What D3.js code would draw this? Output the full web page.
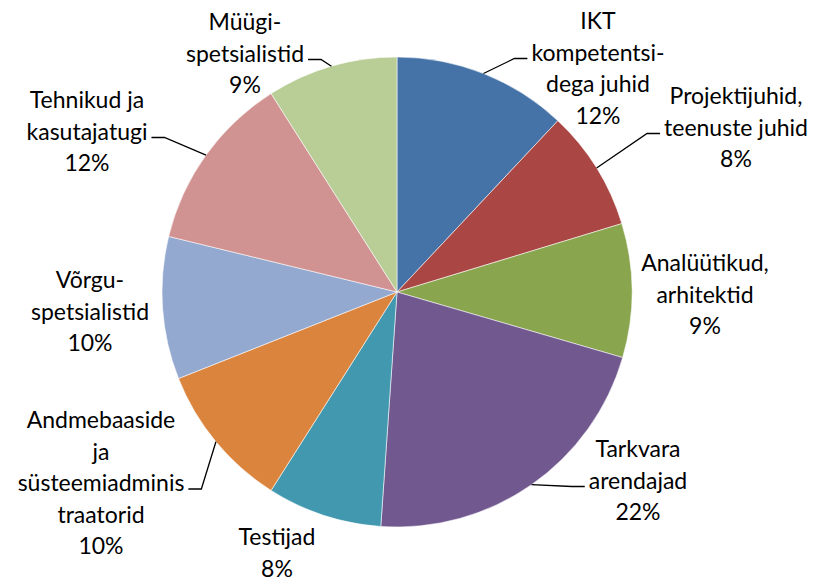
<!DOCTYPE html>
<html>
<head>
<meta charset="utf-8">
<script src="https://cdn.jsdelivr.net/npm/d3@7"></script>
<style>
  body { margin: 0; background: #fff; }
  svg text { font-family: Lato, "Open Sans", sans-serif; fill: #000; }
</style>
</head>
<body>
<svg id="chart" width="816" height="580"></svg>
<script>
// data (clockwise from 12 o'clock)
const categories = [
  ["IKT", "kompetentsi-", "dega juhid"],
  ["Projektijuhid,", "teenuste juhid"],
  ["Analüütikud,", "arhitektid"],
  ["Tarkvara", "arendajad"],
  ["Testijad"],
  ["Andmebaaside", "ja", "süsteemiadminis", "traatorid"],
  ["Võrgu-", "spetsialistid"],
  ["Tehnikud ja", "kasutajatugi"],
  ["Müügi-", "spetsialistid"]
];
const shares = [12.0, 8.3, 9.2, 21.6, 7.9, 10.0, 9.8, 12.2, 9.0];
const colors = ["#4572A7", "#AA4643", "#89A54E", "#71588F", "#4198AF", "#DB843D", "#93A9CF", "#D19392", "#B9CD96"];

// label layout: centre x, first baseline y, which line the leader attaches to (-1 = none)
const labelX = [598, 736, 705, 638, 277, 101, 90, 87, 245];
const labelY = [29, 104, 271, 457, 545, 428, 288, 108, 30];
const leaderLine = [1, 1, -1, 1, -1, 2, -1, 1, 1];

const width = 816, height = 580;
const cx = 397, cy = 292, radius = 235;
const fontSize = 23, lineH = 31.5;

const svg = d3.select("#chart");
const g = svg.append("g").attr("transform", `translate(${cx},${cy})`);

const pie = d3.pie().sort(null).value(d => d);
const arcs = pie(shares);
const arc = d3.arc().innerRadius(0).outerRadius(radius);
const edge = d3.arc().innerRadius(radius).outerRadius(radius);

g.selectAll("path.slice")
  .data(arcs)
  .join("path")
  .attr("class", "slice")
  .attr("d", arc)
  .attr("fill", (d, i) => colors[i])
  .attr("stroke", "#fff")
  .attr("stroke-width", 0.8)
  .attr("stroke-opacity", 0.7);

// labels
const labels = svg.selectAll("text.lbl")
  .data(arcs)
  .join("text")
  .attr("class", "lbl")
  .attr("text-anchor", "middle")
  .style("font-size", fontSize + "px");

labels.each(function(d, i) {
  const t = d3.select(this);
  const lines = categories[i].concat([Math.round(shares[i]) + "%"]);
  lines.forEach((s, k) => {
    t.append("tspan")
      .attr("x", labelX[i])
      .attr("y", labelY[i] + k * lineH)
      .text(s);
  });
});

// leader lines: pie edge at mid angle -> short horizontal into the label
labels.each(function(d, i) {
  if (leaderLine[i] < 0) return;
  const span = d3.select(this).selectAll("tspan").nodes()[leaderLine[i]];
  const w = span.getComputedTextLength();
  const p = edge.centroid(d);
  const px = p[0] + cx, py = p[1] + cy;
  const ly = labelY[i] + leaderLine[i] * lineH - 2;
  const onLeft = px < labelX[i];
  const endX = onLeft ? labelX[i] - w / 2 - 4 : labelX[i] + w / 2 + 4;
  const elbowX = onLeft ? endX - 13 : endX + 13;
  svg.append("path")
    .attr("d", d3.line()([[endX, ly], [elbowX, ly], [px, py]]))
    .attr("fill", "none")
    .attr("stroke", "#000")
    .attr("stroke-width", 1.3);
});
</script>
</body>
</html>
